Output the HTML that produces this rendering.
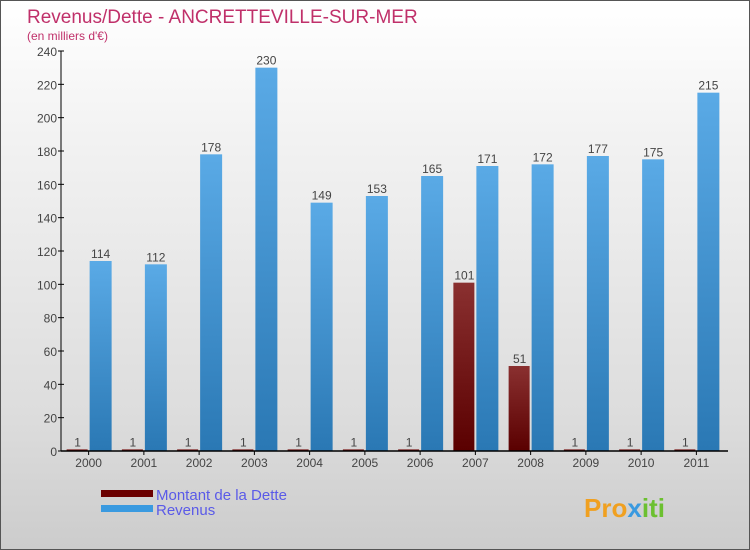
<!DOCTYPE html>
<html><head><meta charset="utf-8"><style>
body{margin:0}
#c{position:relative;width:748px;height:548px;border:1px solid #555;background:linear-gradient(#fff,#f2f2f2 25%,#ddd 75%,#ccc);font-family:"Liberation Sans",sans-serif;overflow:hidden}
</style></head><body>
<div id="c">
<svg id="s" width="748" height="548">
<text x="26" y="22" font-size="19" fill="#c0306a">Revenus/Dette - ANCRETTEVILLE-SUR-MER</text>
<text x="26" y="39" font-size="12" fill="#c0306a">(en milliers d'€)</text>
<g id="g"></g>
<rect x="100" y="489" width="52" height="7" fill="#6b0000"/>
<rect x="100" y="504" width="52" height="7" fill="#3a9ae0"/>
<text x="155" y="499" font-size="15" fill="#5a5ae8">Montant de la Dette</text>
<text x="155" y="514" font-size="15" fill="#5a5ae8">Revenus</text>
<text x="583" y="516" font-size="26" font-weight="bold" fill="#f0a020">Pro<tspan fill="#3a9ae0">x</tspan><tspan fill="#6cc030">iti</tspan></text>
</svg></div>
<script>
const years=["2000","2001","2002","2003","2004","2005","2006","2007","2008","2009","2010","2011"];
const dette=[1,1,1,1,1,1,1,101,51,1,1,1];
const revenus=[114,112,178,230,149,153,165,171,172,177,175,215];
const ticks=[0,20,40,60,80,100,120,140,160,180,200,220,240];
const NS="http://www.w3.org/2000/svg",g=document.getElementById('g');
const x0=60,x1=723,y0=450,yT=50,max=240;
const y=v=>y0-(v/max)*(y0-yT);
const bw=(x1-x0)/years.length;
const cx=i=>x0+bw*(i+0.5);
function el(t,a){const e=document.createElementNS(NS,t);for(const k in a)e.setAttribute(k,a[k]);g.appendChild(e);return e;}
const defs=el('defs',{});
defs.innerHTML='<linearGradient id="gb" x1="0" y1="0" x2="0" y2="1"><stop offset="0" stop-color="#5aaae6"/><stop offset="1" stop-color="#2a78b4"/></linearGradient><linearGradient id="gr" x1="0" y1="0" x2="0" y2="1"><stop offset="0" stop-color="#8a3030"/><stop offset="1" stop-color="#5a0000"/></linearGradient>';
ticks.forEach(t=>{
const l=el('line',{x1:x0-3,x2:x0+3,y1:y(t),y2:y(t),stroke:'#000'});


const tx=el('text',{x:x0-4,y:y(t)+5,'font-size':12,'text-anchor':'end',fill:'#444'});tx.textContent=t;


});
years.forEach((yr,i)=>{
const c=cx(i);
const r=el('rect',{x:c-22,y:y(dette[i]),width:21,height:y0-y(dette[i]),fill:'url(#gr)'});


const b=el('rect',{x:c+1,y:y(revenus[i]),width:22,height:y0-y(revenus[i]),fill:'url(#gb)'});


const t1=el('text',{x:c-11,y:y(dette[i])-3,'font-size':12,'text-anchor':'middle',fill:'#444'});t1.textContent=dette[i];


const t2=el('text',{x:c+12,y:y(revenus[i])-3,'font-size':12,'text-anchor':'middle',fill:'#444'});t2.textContent=revenus[i];


const tk=el('line',{x1:c,x2:c,y1:y0,y2:y0+4,stroke:'#000'});


const xl=el('text',{x:c,y:y0+16,'font-size':12,'text-anchor':'middle',fill:'#444'});xl.textContent=yr;


});
const ya=el('line',{x1:x0,x2:x0,y1:yT,y2:y0,stroke:'#000'});


const xa=el('line',{x1:x0,x2:x1+4,y1:y0,y2:y0,stroke:'#000','stroke-width':1.5});


</script>
</body></html>
